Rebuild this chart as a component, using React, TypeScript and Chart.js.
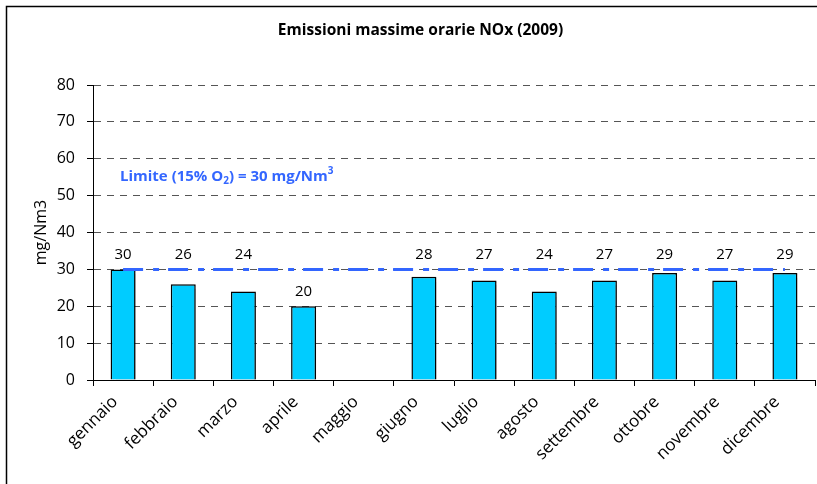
import React, { useEffect, useRef } from "react";
import { Chart, registerables } from "chart.js";

Chart.register(...registerables);

const months = [
  "gennaio", "febbraio", "marzo", "aprile", "maggio", "giugno",
  "luglio", "agosto", "settembre", "ottobre", "novembre", "dicembre",
];
const emissions: (number | null)[] = [30, 26, 24, 20, null, 28, 27, 24, 27, 29, 27, 29];
const limitValue = 30;
const limitSeries = months.map(() => limitValue);
const yTicks = [0, 10, 20, 30, 40, 50, 60, 70, 80];

const chartTitle = "Emissioni massime orarie NOx (2009)";
const yAxisTitle = "mg/Nm3";

const FONT = "'Open Sans', 'DejaVu Sans', sans-serif";

const framePlugin = {
  id: "frame",
  beforeDraw(chart: any) {
    const ctx = chart.ctx;
    ctx.save();
    ctx.fillStyle = "#fff";
    ctx.fillRect(0, 0, chart.width, chart.height);
    ctx.strokeStyle = "#000";
    ctx.lineWidth = 1.5;
    ctx.strokeRect(6.5, 6.5, 2000, 2000);
    ctx.fillStyle = "#000";
    ctx.font = `bold 15.5px ${FONT}`;
    ctx.textAlign = "center";
    ctx.textBaseline = "middle";
    ctx.fillText(chartTitle, chart.width / 2 + 12, 31);
    ctx.restore();
  },
};

const barShadowPlugin = {
  id: "barShadow",
  beforeDatasetDraw(chart: any, args: any) {
    if (chart.data.datasets[args.index].type !== "bar") return;
    const ctx = chart.ctx;
    ctx.save();
    ctx.shadowColor = "rgba(0,0,0,0.22)";
    ctx.shadowOffsetX = 2;
    ctx.shadowOffsetY = 1;
    ctx.shadowBlur = 1;
  },
  afterDatasetDraw(chart: any, args: any) {
    if (chart.data.datasets[args.index].type !== "bar") return;
    chart.ctx.restore();
  },
};

const labelsPlugin = {
  id: "valueLabels",
  afterDatasetsDraw(chart: any) {
    const ctx = chart.ctx;
    const yScale = chart.scales.y;
    const barIndex = chart.data.datasets.findIndex((d: any) => d.type === "bar");
    const meta = chart.getDatasetMeta(barIndex);
    ctx.save();
    ctx.fillStyle = "#000";
    ctx.font = `15px ${FONT}`;
    ctx.textAlign = "center";
    ctx.textBaseline = "middle";
    meta.data.forEach((el: any, i: number) => {
      const v = emissions[i];
      if (v === null || v === undefined) return;
      const anchor = v < limitValue - 8 ? v : Math.max(v, limitValue);
      const y = yScale.getPixelForValue(anchor) - 15;
      ctx.fillText(String(v), el.x, y);
    });

    // limit annotation text
    const x0 = chart.chartArea.left + 27;
    const yT = yScale.getPixelForValue(55.3);
    ctx.fillStyle = "#3366FF";
    ctx.textAlign = "left";
    ctx.textBaseline = "alphabetic";
    const big = `bold 15px ${FONT}`;
    const small = `bold 10px ${FONT}`;
    const base = yT + 5;
    let x = x0;
    const part = (t: string, f: string, dy: number) => {
      ctx.font = f;
      ctx.fillText(t, x, base + dy);
      x += ctx.measureText(t).width;
    };
    part("Limite (15% O", big, 0);
    part("2", small, 3);
    part(") = 30 mg/Nm", big, 0);
    part("3", small, -7);
    ctx.restore();
  },
};

export default function App() {
  const ref = useRef<HTMLCanvasElement | null>(null);
  useEffect(() => {
    if (!ref.current) return;
    const chart = new Chart(ref.current, {
      type: "bar",
      data: {
        labels: months,
        datasets: [
          {
            type: "line",
            data: limitSeries,
            borderColor: "#3366FF",
            borderWidth: 3,
            borderDash: [20, 10, 6, 9],
            pointRadius: 0,
            fill: false,
            order: 0,
          } as any,
          {
            type: "bar",
            data: emissions,
            backgroundColor: "#00CCFF",
            borderColor: "#000",
            borderWidth: 1.5,
            barPercentage: 0.415,
            categoryPercentage: 1,
            order: 1,
          } as any,
        ],
      },
      options: {
        responsive: false,
        animation: false,
        layout: { padding: { left: 6, top: 85, right: 2, bottom: 0 } },
        plugins: {
          legend: { display: false },
          tooltip: { enabled: false },
          title: { display: false },
        },
        scales: {
          x: {
            grid: {
              display: true,
              drawOnChartArea: false,
              offset: true,
              tickLength: 6,
              color: "#000",
            },
            border: { color: "#000", width: 1 },
            ticks: {
              color: "#000",
              font: { family: FONT, size: 17 },
              minRotation: 45,
              maxRotation: 45,
              padding: 6,
              labelOffset: -8,
              autoSkip: false,
            },
            afterFit: (s: any) => {
              s.height = 104;
            },
          },
          y: {
            min: 0,
            max: 80,
            afterBuildTicks: (s: any) => {
              s.ticks = yTicks.map((v) => ({ value: v }));
            },
            ticks: {
              color: "#000",
              font: { family: FONT, size: 16 },
              padding: 12,
            },
            grid: {
              color: "#555",
              tickColor: "#000",
              tickLength: 6,
              lineWidth: 1,
            },
            border: { color: "#000", width: 1, dash: [7, 6] },
            title: {
              display: true,
              text: yAxisTitle,
              color: "#000",
              font: { family: FONT, size: 16 },
              padding: { top: 26, bottom: 0 },
            },
            afterFit: (s: any) => {
              s.width = 87;
            },
          },
        },
      },
      plugins: [framePlugin, barShadowPlugin, labelsPlugin],
    });
    return () => chart.destroy();
  }, []);
  return (
    <div style={{ position: "absolute", left: 0, top: 0, width: 817, height: 484 }}>
      <canvas ref={ref} width={817} height={484} style={{ width: 817, height: 484 }} />
    </div>
  );
}
